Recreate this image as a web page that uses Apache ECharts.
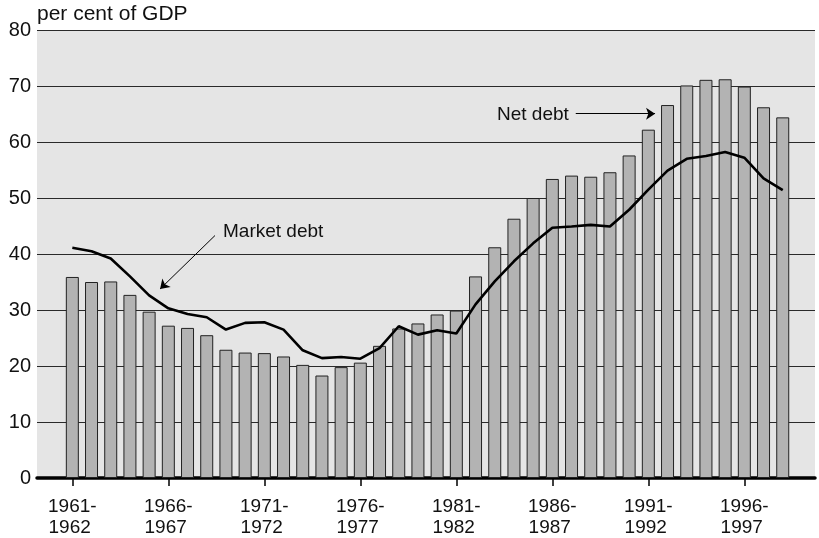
<!DOCTYPE html>
<html>
<head>
<meta charset="utf-8">
<script src="https://cdn.jsdelivr.net/npm/echarts@6/dist/echarts.min.js"></script>
<style>
  html, body { margin: 0; padding: 0; background: #fff; }
  #chart { width: 819px; height: 538px; }
</style>
</head>
<body>
<div id="chart"></div>
<script>
// financial years, labelled by their first year (1961 = 1961-1962)
const years = [1961, 1962, 1963, 1964, 1965, 1966, 1967, 1968, 1969, 1970,
               1971, 1972, 1973, 1974, 1975, 1976, 1977, 1978, 1979, 1980,
               1981, 1982, 1983, 1984, 1985, 1986, 1987, 1988, 1989, 1990,
               1991, 1992, 1993, 1994, 1995, 1996, 1997, 1998];

const netDebt = [35.9, 35.0, 35.1, 32.7, 29.7, 27.2, 26.8, 25.5, 22.9, 22.4,
                 22.3, 21.7, 20.2, 18.3, 19.8, 20.6, 23.6, 26.7, 27.6, 29.2,
                 29.9, 36.0, 41.2, 46.3, 50.0, 53.4, 54.0, 53.8, 54.6, 57.6,
                 62.2, 66.6, 70.1, 71.1, 71.2, 69.9, 66.2, 64.4];

const marketDebt = [41.1, 40.5, 39.2, 36.0, 32.6, 30.3, 29.3, 28.7, 26.5, 27.7,
                    27.8, 26.5, 22.8, 21.4, 21.6, 21.3, 23.2, 27.1, 25.6, 26.4,
                    25.8, 31.0, 35.1, 38.7, 41.9, 44.7, 44.9, 45.2, 44.9, 47.9,
                    51.5, 54.9, 57.0, 57.5, 58.2, 57.2, 53.5, 51.4];

const labelYears = [1961, 1966, 1971, 1976, 1981, 1986, 1991, 1996];

// annotation arrows, in data coordinates [year, per cent]
const marketArrow = [[1968.43, 43.3], [1965.57, 33.75]];
const netArrow = [[1987.22, 65.05], [1991.35, 65.05]];

const font = "'Liberation Sans', Arial, Helvetica, sans-serif";

const chart = echarts.init(document.getElementById('chart'));

chart.setOption({
    animation: false,
    textStyle: { fontFamily: font },
    grid: {
        left: 37,
        right: 4,
        top: 30,
        bottom: 60,
        show: true,
        backgroundColor: '#e5e5e5',
        borderWidth: 0,
    },
    xAxis: {
        type: 'value',
        min: 1959.16,
        max: 1999.68,
        splitLine: { show: false },
        axisLine: { show: true, onZero: false, lineStyle: { color: '#000', width: 3.5 } },
        axisTick: {
            show: true,
            customValues: labelYears,
            length: 8,
            lineStyle: { color: '#000', width: 1.5 },
        },
        axisLabel: {
            customValues: labelYears,
            fontSize: 19,
            lineHeight: 21,
            color: '#111',
            margin: 18,
            fontFamily: font,
            formatter: (v) => v + '-\n' + (v + 1) + ' ',
        },
    },
    yAxis: {
        type: 'value',
        min: 0,
        max: 80,
        interval: 10,
        name: 'per cent of GDP',
        nameLocation: 'end',
        nameGap: 5,
        nameTextStyle: {
            fontSize: 21,
            color: '#111',
            align: 'left',
            verticalAlign: 'bottom',
            fontFamily: font,
        },
        axisLine: { show: false },
        axisTick: { show: false },
        axisLabel: { fontSize: 20, color: '#111', margin: 6, fontFamily: font },
        splitLine: { lineStyle: { color: '#2a2a2a', width: 1.2 } },
    },
    series: [
        {
            name: 'Net debt',
            type: 'bar',
            barWidth: 13,
            data: years.map((y, i) => [y, netDebt[i]]),
            itemStyle: { color: '#b3b3b3', borderColor: '#222', borderWidth: 1 },
        },
        {
            name: 'Market debt',
            type: 'line',
            symbol: 'none',
            data: years.map((y, i) => [y, marketDebt[i]]),
            lineStyle: { color: '#000', width: 2.6 },
            markLine: {
                silent: true,
                symbol: ['none', 'arrow'],
                symbolSize: 9,
                label: { show: false },
                lineStyle: { color: '#000', width: 1, type: 'solid' },
                data: [
                    [{ coord: marketArrow[0] }, { coord: marketArrow[1] }],
                    [{ coord: netArrow[0] }, { coord: netArrow[1] }],
                ],
            },
        },
    ],
    graphic: [
        {
            type: 'text',
            left: 223,
            top: 222,
            style: { text: 'Market debt', font: '19px ' + font, fill: '#111' },
        },
        {
            type: 'text',
            left: 497,
            top: 105,
            style: { text: 'Net debt', font: '19px ' + font, fill: '#111' },
        },
    ],
});
</script>
</body>
</html>
